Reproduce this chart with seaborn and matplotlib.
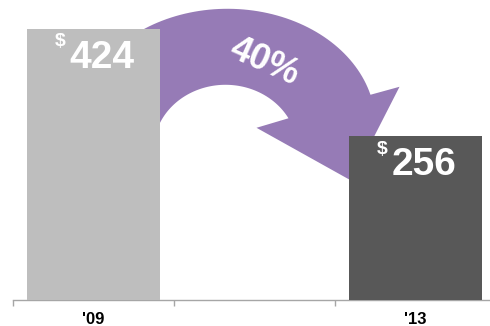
import matplotlib
matplotlib.use("Agg")
import numpy as np
import pandas as pd
import seaborn as sns
import matplotlib.pyplot as plt
from matplotlib import transforms
from matplotlib.patches import Polygon

# Spending by year; the empty middle slot leaves room for the change arrow
years = ["'09", "'13"]
slots = ["'09", "", "'13"]
amounts = [424, 256]
bar_colors = ["#BEBEBE", "#585858"]
arrow_color = "#967BB6"
bar_width = 0.82

sns.set_theme(style="white")
plt.rcParams["font.family"] = ["Liberation Sans", "DejaVu Sans"]

W, H = 490, 326
fig = plt.figure(figsize=(W / 100, H / 100), dpi=100)
ax = fig.add_axes([13 / W, 26 / H, 483 / W, 300 / H])

df = pd.DataFrame({"year": years, "amount": amounts})
sns.barplot(data=df, x="year", y="amount", hue="year", order=slots,
            hue_order=years, palette=bar_colors, saturation=1,
            width=bar_width, legend=False, ax=ax, zorder=3, linewidth=0)

ax.set_xlim(-0.5, len(slots) - 0.5)
ax.set_ylim(0, 469)
ax.set_xlabel("")
ax.set_ylabel("")
ax.set_yticks([])
for side in ("top", "right", "left"):
    ax.spines[side].set_visible(False)
ax.spines["bottom"].set_color("#A6A6A6")
ax.spines["bottom"].set_linewidth(1)

ax.set_xticks(range(len(slots)))
ax.set_xticklabels(slots, fontsize=12, fontweight="bold", color="black")
ax.set_xticks(np.arange(-0.5, len(slots)), minor=True)
ax.tick_params(axis="x", which="major", length=0, pad=8.5, bottom=False)
ax.tick_params(axis="x", which="minor", length=4, width=1,
               color="#A6A6A6", bottom=True, direction="out")

# Value labels with a small raised dollar sign
for year, value in zip(years, amounts):
    pos = slots.index(year)
    ax.annotate(f"{value}", xy=(pos, value), xytext=(6, -28),
                textcoords="offset points", ha="center", va="baseline",
                fontsize=28, fontweight="bold", color="white", zorder=5)
    ax.annotate("\\$", xy=(pos, value), xytext=(-24, -12.5),
                textcoords="offset points", ha="center", va="baseline",
                fontsize=14, fontweight="bold", color="white", zorder=5)

# Curved arrow from the first bar to the last, in pixel units anchored
# at the top-right corner of the first bar (y grows downward)
def ellipse_arc(cx, cy, rx, ry, t0, t1, n=90):
    t = np.radians(np.linspace(t0, t1, n))
    return np.column_stack([cx + rx * np.cos(t), cy - ry * np.sin(t)])

outer = ellipse_arc(68, 96, 148, 116, 185, 15)
inner = ellipse_arc(66, 121, 72, 65, 29, 185)
head = np.array([[240, 58], [192, 152], [97, 99]])
shape = np.vstack([outer, head, inner])

anchor = transforms.ScaledTranslation(slots.index(years[0]) + bar_width / 2,
                                      amounts[0], ax.transData)
arrow_tr = transforms.Affine2D().scale(1, -1) + anchor
ax.add_patch(Polygon(shape, closed=True, facecolor=arrow_color,
                     edgecolor="none", transform=arrow_tr, zorder=1,
                     clip_on=False))

drop = round((amounts[0] - amounts[1]) / amounts[0] * 100)
ax.text(105, 33, f"{drop}%", transform=arrow_tr, rotation=-24,
        rotation_mode="anchor", ha="center", va="center", fontsize=26,
        fontweight="bold", color="white", zorder=4)

fig.savefig("out.png", dpi=100)
